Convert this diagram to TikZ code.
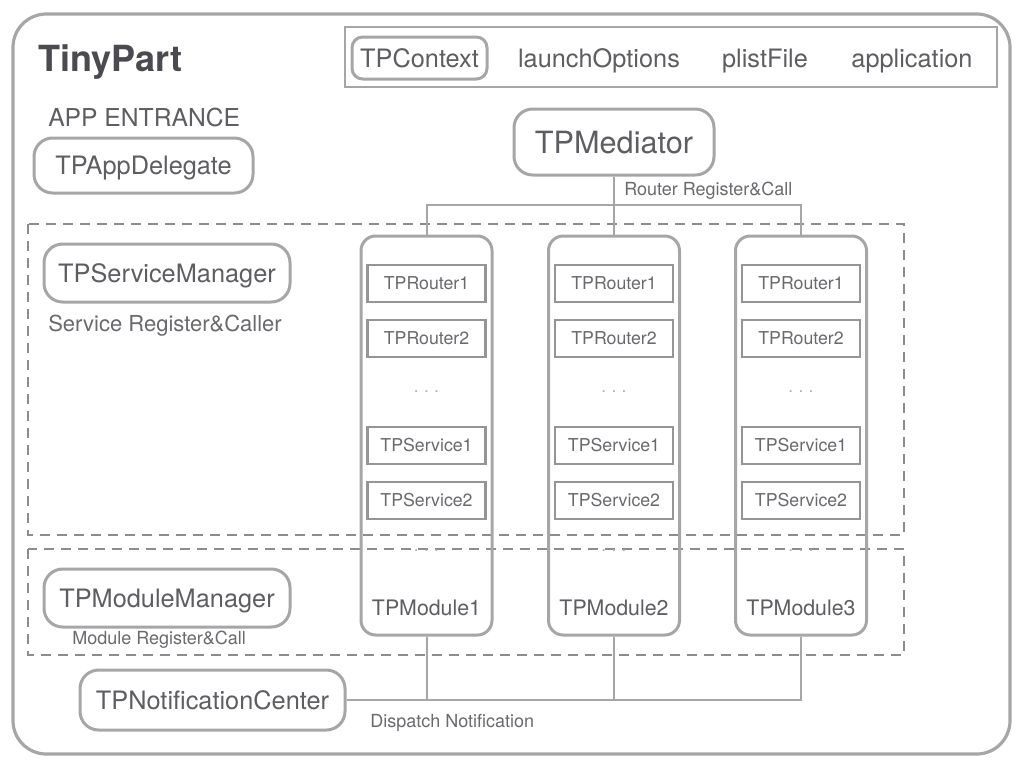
\documentclass[tikz,border=0pt]{standalone}
\usepackage{fontspec}
\setmainfont{TeX Gyre Heros}
\definecolor{boxc}{HTML}{A6A6A6}
\definecolor{innerc}{HTML}{959595}
\definecolor{dashc}{HTML}{8C8C90}
\definecolor{txt}{HTML}{5E5E62}
\definecolor{stxt}{HTML}{6A6A6E}
\definecolor{titlec}{HTML}{4A4A50}
\definecolor{dotc}{HTML}{B0B0B0}
\def\u{0.75pt}
\begin{document}
\begin{tikzpicture}[x=0.75pt,y=-0.75pt,
  rbox/.style={draw=boxc, line width=2.25pt, rounded corners=14pt, inner sep=0pt, text=txt, text height=13.5pt, text depth=0pt},
  modbox/.style={draw=boxc, line width=2.25pt, rounded corners=11pt, inner sep=0pt, minimum width=131*\u, minimum height=399*\u},
  ibox/.style={draw=innerc, line width=1.6pt, inner sep=0pt, minimum width=118*\u, minimum height=37*\u, text=stxt, font=\fontsize{13.3}{15}\selectfont, text height=9.6pt, text depth=0pt},
  big/.style={font=\fontsize{19}{22}\selectfont, text=txt},
  lbl/.style={font=\fontsize{13.5}{15}\selectfont, text=stxt, inner sep=0pt},
  dots/.style={font=\fontsize{13}{15}\selectfont, text=dotc, inner sep=0pt},
  conn/.style={draw=boxc, line width=1.5pt},
  dashbox/.style={draw=dashc, line width=1.7pt, dash pattern=on 10*\u off 7*\u}
]
\useasboundingbox[fill=white] (0,0) rectangle (1024,768);
% outer frame
\draw[draw=boxc, line width=2.4pt, rounded corners=25pt] (13,14) rectangle (1010,754);
\node[font=\fontsize{27}{30}\selectfont\bfseries, text=titlec, anchor=base west, inner sep=0pt] (title) at (38,71) {TinyPart};
% context frame
\node[draw=boxc, line width=1.6pt, inner sep=0pt, minimum width=652*\u, minimum height=60*\u] (ctxframe) at (671,57) {};
\node[rbox, big, rounded corners=8pt, minimum width=135*\u, minimum height=42*\u] (ctx) at (419.5,58) {TPContext};
\node[big, anchor=base, inner sep=0pt] (launch) at (599,67) {launchOptions};
\node[big, anchor=base, inner sep=0pt] (plist) at (765,67) {plistFile};
\node[big, anchor=base, inner sep=0pt] (app) at (912,67) {application};
% app entrance
\node[big, anchor=base west, inner sep=0pt, font=\fontsize{18.5}{22}\selectfont] (entr) at (48,126) {APP ENTRANCE};
\node[rbox, big, minimum width=219*\u, minimum height=55*\u] (appdel) at (143.5,165.5) {TPAppDelegate};
% mediator
\node[rbox, font=\fontsize{23}{26}\selectfont, text height=16.5pt, minimum width=200*\u, minimum height=66*\u] (med) at (614,142) {TPMediator};
\node[lbl, anchor=base west] (rrc) at (624,195) {Router Register\&Call};
% dashed regions
\draw[dashbox] (28,224) rectangle (904,535);
\draw[dashbox] (28,549) rectangle (904,655);
% managers
\node[rbox, big, minimum width=246*\u, minimum height=58*\u] (sm) at (167,273) {TPServiceManager};
\node[lbl, anchor=base west, font=\fontsize{16.5}{19}\selectfont] (src) at (48,331) {Service Register\&Caller};
\node[rbox, big, minimum width=246*\u, minimum height=58*\u] (mm) at (167,598) {TPModuleManager};
\node[lbl, anchor=base west] (mrc) at (72,644) {Module Register\&Call};
% notification center
\node[rbox, big, minimum width=265*\u, minimum height=60*\u] (nc) at (212.5,700) {TPNotificationCenter};
\node[lbl, anchor=base west] (dn) at (370,727) {Dispatch Notification};
% modules
\foreach \i/\x in {1/426.5,2/614,3/801}{
  \node[modbox] (m\i) at (\x,435.5) {};
  \node[ibox] (r\i a) at (\x,283.5) {TPRouter1};
  \node[ibox] (r\i b) at (\x,338.5) {TPRouter2};
  \node[dots] (d\i a) at (\x,392) {.\hspace{4pt}.\hspace{4pt}.};
  \node[ibox] (s\i a) at (\x,445.5) {TPService1};
  \node[ibox] (s\i b) at (\x,500.5) {TPService2};
  \node[dots] (d\i b) at (\x,551) {.\hspace{4pt}.\hspace{4pt}.};
  \node[font=\fontsize{16}{18}\selectfont, text=txt, inner sep=0pt] (ml\i) at (\x,608) {TPModule\i};
}
% router connectors
\coordinate (j) at (614,205);
\draw[conn] (med.south) -- (m2.north);
\draw[conn] (m1.north) |- (j) -| (m3.north);
% notification connectors
\draw[conn] (nc.east) -- (m3.south |- nc.east) -- (m3.south);
\draw[conn] (m1.south) -- (m1.south |- nc.east);
\draw[conn] (m2.south) -- (m2.south |- nc.east);
\end{tikzpicture}
\end{document}
